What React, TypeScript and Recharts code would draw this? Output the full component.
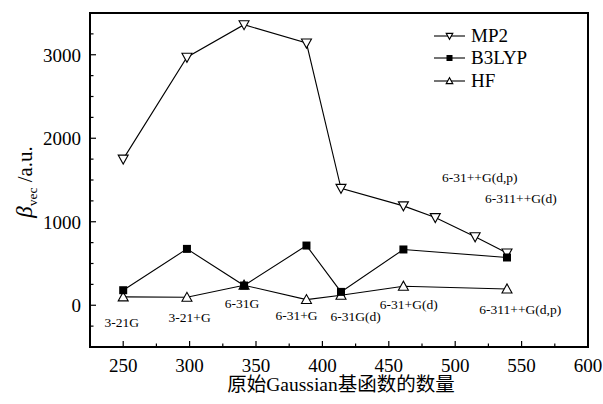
import React from 'react';
import {
  LineChart,
  Line,
  XAxis,
  YAxis,
  Legend,
  ReferenceArea,
  ReferenceDot,
} from 'recharts';

// MP2 / B3LYP / HF values
const mp2X = [250, 298, 341, 388, 414, 461, 485, 515, 539];
const mp2Y = [1750, 2970, 3360, 3140, 1400, 1190, 1050, 820, 625];
const b3lypX = [250, 298, 341, 388, 414, 461, 539];
const b3lypY = [180, 675, 236, 715, 160, 668, 572];
const hfX = [250, 298, 341, 388, 414, 461, 539];
const hfY = [100, 95, 240, 68, 120, 228, 195];

// basis set annotations (centre of text, in data units)
const basisNames = [
  '3-21G', '3-21+G', '6-31G', '6-31+G', '6-31G(d)', '6-31+G(d)',
  '6-311++G(d,p)', '6-31++G(d,p)', '6-311++G(d)',
];
const basisX = [249, 300, 339.5, 380.5, 425, 465, 549, 518.5, 549.5];
const basisY = [-200, -145, 24, -120, -132, 12, -48, 1537, 1285];

const xTicks = [250, 275, 300, 325, 350, 375, 400, 425, 450, 475, 500, 525, 550, 575, 600];
const yTicks = [-250, 0, 250, 500, 750, 1000, 1250, 1500, 1750, 2000, 2250, 2500, 2750, 3000, 3250];

const FONT = "'Liberation Serif', 'Times New Roman', 'Noto Sans CJK SC', serif";

const toRows = (xs: number[], ys: number[]) => xs.map((x, i) => ({ x, y: ys[i] }));
const mp2Data = toRows(mp2X, mp2Y);
const b3lypData = toRows(b3lypX, b3lypY);
const hfData = toRows(hfX, hfY);

const DownTri = ({ cx, cy, s = 5 }: any) => (
  <path
    d={`M${cx - s},${cy - s * 0.8} L${cx + s},${cy - s * 0.8} L${cx},${cy + s} Z`}
    fill="#fff"
    stroke="#000"
    strokeWidth={1.1}
  />
);
const UpTri = ({ cx, cy, s = 5 }: any) => (
  <path
    d={`M${cx - s},${cy + s * 0.8} L${cx + s},${cy + s * 0.8} L${cx},${cy - s} Z`}
    fill="#fff"
    stroke="#000"
    strokeWidth={1.1}
  />
);
const Square = ({ cx, cy, s = 4 }: any) => (
  <rect x={cx - s} y={cy - s} width={s * 2} height={s * 2} fill="#000" />
);

const markerFor: Record<string, any> = { MP2: DownTri, B3LYP: Square, HF: UpTri };
const legendOrder = ['MP2', 'B3LYP', 'HF'];

const YTick = (props: any) => {
  const { x, y, payload } = props;
  const major = payload.value % 1000 === 0;
  return (
    <g>
      <line x1={x} x2={x + (major ? 6 : 3.5)} y1={y} y2={y} stroke="#000" strokeWidth={1.2} />
      {major && (
        <text x={x - 9} y={y} dy="0.36em" textAnchor="end" fontFamily={FONT} fontSize={19} fill="#000">
          {payload.value}
        </text>
      )}
    </g>
  );
};

const XTick = (props: any) => {
  const { x, y, payload } = props;
  const major = payload.value % 50 === 0;
  return (
    <g>
      <line x1={x} x2={x} y1={y} y2={y - (major ? 6 : 3.5)} stroke="#000" strokeWidth={1.2} />
      {major && (
        <text x={x} y={y + 18} dy="0.36em" textAnchor="middle" fontFamily={FONT} fontSize={19} fill="#000">
          {payload.value}
        </text>
      )}
    </g>
  );
};

const YLabel = (props: any) => {
  const { viewBox } = props;
  const cx = viewBox.x + 26;
  const cy = viewBox.y + viewBox.height / 2 + 2;
  return (
    <text
      x={cx}
      y={cy}
      transform={`rotate(-90 ${cx} ${cy})`}
      textAnchor="middle"
      dy="0.35em"
      fontFamily={FONT}
      fill="#000"
    >
      <tspan fontStyle="italic" fontSize={23}>β</tspan>
      <tspan fontSize={13.5} dy={5}>vec</tspan>
      <tspan fontSize={21} dy={-5}> /a.u.</tspan>
    </text>
  );
};

const XLabel = (props: any) => {
  const { viewBox } = props;
  return (
    <text
      x={viewBox.x + viewBox.width / 2 + 2}
      y={viewBox.y + 37}
      dy="0.36em"
      textAnchor="middle"
      fontFamily={FONT}
      fontSize={19.5}
      fill="#000"
    >
      原始Gaussian基函数的数量
    </text>
  );
};

const renderLegend = (props: any) => {
  const items = [...(props.payload || [])].sort(
    (a: any, b: any) => legendOrder.indexOf(a.value) - legendOrder.indexOf(b.value)
  );
  return (
    <div style={{ fontFamily: FONT, fontSize: 19, color: '#000' }}>
      {items.map((it: any) => {
        const M = markerFor[it.value];
        return (
          <div key={it.value} style={{ display: 'flex', alignItems: 'center', height: 22.5 }}>
            <svg width={31} height={12} style={{ display: 'block' }}>
              <line x1={0} x2={31} y1={6} y2={6} stroke="#000" strokeWidth={1.1} />
              <M cx={15.5} cy={6} s={it.value === 'B3LYP' ? 3 : 3.3} />
            </svg>
            <span style={{ marginLeft: 6, lineHeight: '22.5px' }}>{it.value}</span>
          </div>
        );
      })}
    </div>
  );
};

export default function App() {
  return (
    <div style={{ position: 'absolute', left: 0, top: 0, background: '#fff' }}>
      <LineChart width={603} height={404} margin={{ top: 13, right: 15, bottom: 0, left: 0 }}>
        <XAxis
          dataKey="x"
          type="number"
          domain={[225, 600]}
          ticks={xTicks}
          interval={0}
          tickSize={0}
          tickMargin={0}
          tick={<XTick />}
          tickLine={false}
          axisLine={{ stroke: '#000', strokeWidth: 2 }}
          height={57}
          allowDataOverflow
          label={<XLabel />}
        />
        <YAxis
          dataKey="y"
          type="number"
          domain={[-500, 3500]}
          ticks={yTicks}
          interval={0}
          tickSize={0}
          tickMargin={0}
          tick={<YTick />}
          tickLine={false}
          axisLine={{ stroke: '#000', strokeWidth: 2 }}
          width={90}
          allowDataOverflow
          label={<YLabel />}
        />
        <ReferenceArea
          x1={225}
          x2={600}
          y1={-500}
          y2={3500}
          fill="none"
          stroke="#000"
          strokeWidth={2}
          fillOpacity={0}
        />
        <Legend
          layout="vertical"
          align="center"
          verticalAlign="middle"
          content={renderLegend}
          wrapperStyle={{ top: 24.5, left: 434, width: 140 }}
        />
        <Line
          name="HF"
          data={hfData}
          dataKey="y"
          stroke="#000"
          strokeWidth={1.1}
          dot={(p: any) => <UpTri key={`hf-${p.index}`} cx={p.cx} cy={p.cy} />}
          isAnimationActive={false}
        />
        <Line
          name="MP2"
          data={mp2Data}
          dataKey="y"
          stroke="#000"
          strokeWidth={1.1}
          dot={(p: any) => <DownTri key={`mp2-${p.index}`} cx={p.cx} cy={p.cy} />}
          isAnimationActive={false}
        />
        <Line
          name="B3LYP"
          data={b3lypData}
          dataKey="y"
          stroke="#000"
          strokeWidth={1.1}
          dot={(p: any) => <Square key={`b3-${p.index}`} cx={p.cx} cy={p.cy} />}
          isAnimationActive={false}
        />
        {basisNames.map((name, i) => (
          <ReferenceDot
            key={name}
            x={basisX[i]}
            y={basisY[i]}
            r={0}
            fill="none"
            stroke="none"
            label={{ value: name, position: 'center', fontSize: 13.5, fontFamily: FONT, fill: '#000' }}
          />
        ))}
      </LineChart>
    </div>
  );
}
